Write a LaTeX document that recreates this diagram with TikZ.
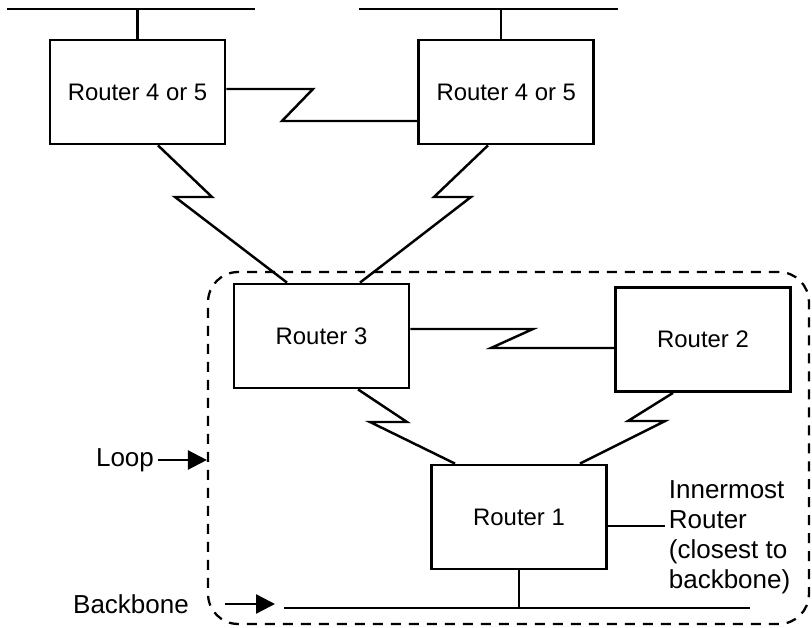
\documentclass[tikz,border=0pt]{standalone}
\usepackage{fontspec}
\setmainfont{Liberation Sans}
\usetikzlibrary{calc,arrows.meta,positioning}

\begin{document}
\begin{tikzpicture}[x=0.02cm,y=-0.02cm,
  router/.style={draw,line width=1.6pt,minimum width=3.5cm,minimum height=2.08cm,inner sep=0pt,font=\fontsize{13.6}{16}\selectfont},
  link/.style={line width=1.4pt,line join=miter},
  arr/.style={line width=1.4pt,-{Triangle[length=0.38cm,width=0.38cm]}},
  lbl/.style={font=\fontsize{14.8}{17}\selectfont,inner sep=2pt}]
\useasboundingbox (0,0) rectangle (812,628);
% the loop
\node[draw,line width=1.3pt,dash pattern=on 0.2cm off 0.16cm,rounded corners=0.6cm,minimum width=12.02cm,minimum height=7.04cm] (loopbox) at (508.5,448) {};
% routers
\node[router] (r45l) at (137.5,92) {Router 4 or 5};
\node[router] (r45r) [right=3.82cm of r45l] {Router 4 or 5};
\node[router] (r3) at (321.5,336) {Router 3};
\node[router] (r2) at (703,339.5) {Router 2};
\node[router] (r1) at (519,517) {Router 1};
% lans and backbone
\coordinate (topl-w) at (7,9);
\coordinate (topl-e) at (255,9);
\coordinate (topr-w) at (359,9);
\coordinate (topr-e) at (618,9);
\coordinate (bb-w) at (284,608);
\coordinate (bb-e) at (750,608);
\draw[link] (topl-w) -- (topl-e);
\draw[link] (topr-w) -- (topr-e);
\draw[link] (bb-w) -- (bb-e);
\draw[link] (r45l.north) -- (r45l.north |- topl-w);
\draw[link] ([xshift=-0.11cm]r45r.north) -- ([xshift=-0.11cm]r45r.north |- topr-w);
\draw[link] (r1.south) -- (r1.south |- bb-w);
% serial links
\draw[link] (r45l.east |- 0,89) -- (313,89) -- (282,121) -- (r45r.west |- 0,121);
\draw[link] (r45l.south -| 158,0) -- (212,197) -- (175,197) -- (r3.north -| 287,0);
\draw[link] (r45r.south -| 488,0) -- (434,197) -- (471,197) -- (r3.north -| 360,0);
\draw[link] (r3.east |- 0,329) -- (533,329) -- (491,348) -- (r2.west |- 0,348);
\draw[link] (r3.south -| 358,0) -- (407,422) -- (370,422) -- (r1.north -| 455,0);
\draw[link] (r2.south -| 673,0) -- (628,421) -- (665,421) -- (r1.north -| 580,0);
% labels
\node[lbl,align=left,anchor=west] (inner) at (665,537) {Innermost\\Router\\(closest to\\backbone)};
\draw[link] (r1.east |- 0,526) -- (inner.west |- 0,526);
\node[lbl] (loop) at (125,460) {Loop};
\draw[arr] (loop.east) -- (loop.east -| loopbox.west);
\node[lbl] (bbtext) at (131,604) {Backbone};
\draw[arr] ($(bbtext.east)+(32,0)$) -- ($(bbtext.east -| bb-w)+(-9,0)$);
\end{tikzpicture}
\end{document}
